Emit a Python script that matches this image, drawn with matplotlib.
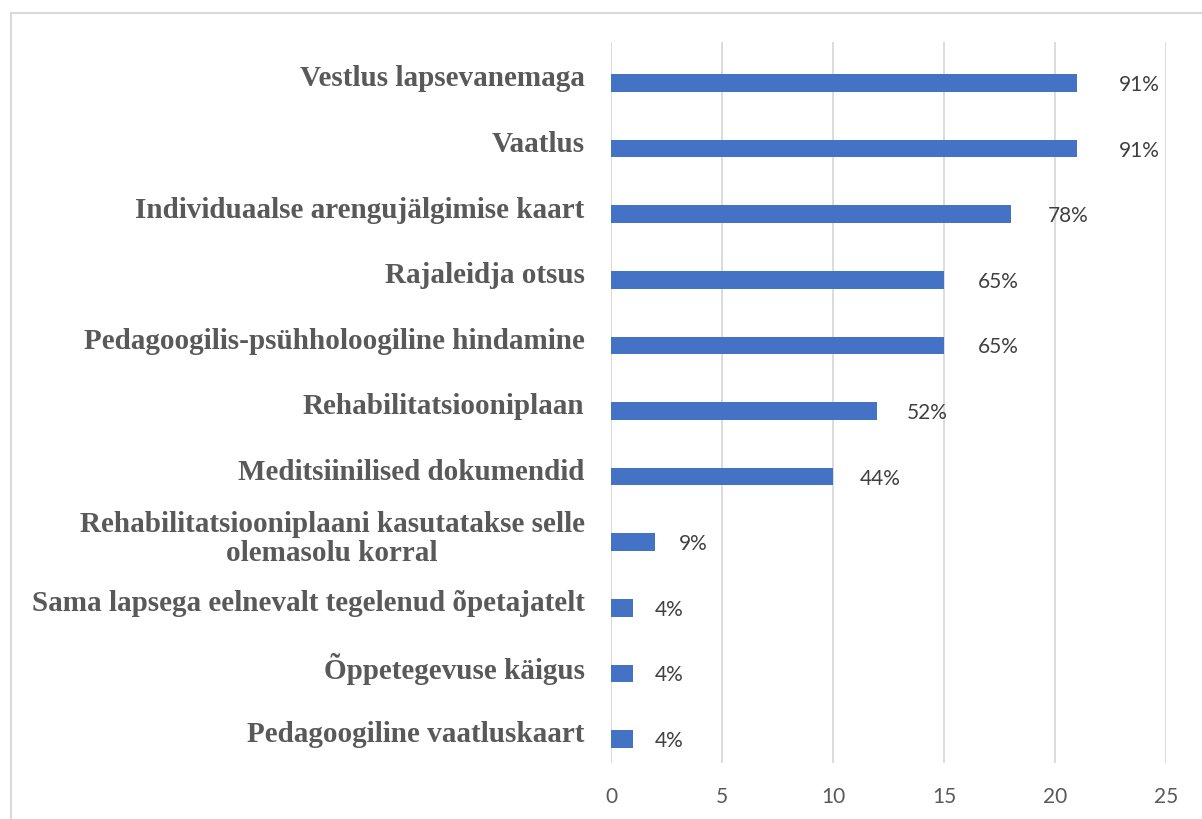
import matplotlib
matplotlib.use("Agg")
import matplotlib.pyplot as plt
from matplotlib.patches import Rectangle
from matplotlib.transforms import ScaledTranslation

# Data (top to bottom as shown)
categories = [
    "Vestlus lapsevanemaga",
    "Vaatlus",
    "Individuaalse arengujälgimise kaart",
    "Rajaleidja otsus",
    "Pedagoogilis-psühholoogiline hindamine",
    "Rehabilitatsiooniplaan",
    "Meditsiinilised dokumendid",
    "Rehabilitatsiooniplaani kasutatakse selle\nolemasolu korral",
    "Sama lapsega eelnevalt tegelenud õpetajatelt",
    "Õppetegevuse käigus",
    "Pedagoogiline vaatluskaart",
]
counts = [21, 21, 18, 15, 15, 12, 10, 2, 1, 1, 1]
percents = ["91%", "91%", "78%", "65%", "65%", "52%", "44%", "9%", "4%", "4%", "4%"]
xticks = [0, 5, 10, 15, 20, 25]

W, H = 1202, 819
fig = plt.figure(figsize=(W / 100, H / 100), dpi=100)
fig.patch.set_facecolor("white")

# outer chart frame (cut off at right and bottom in the reference)
fig.patches.append(Rectangle((11 / W, -0.05), 1.2, 1 - 13 / H + 0.05,
                             transform=fig.transFigure, fill=False,
                             edgecolor="#d9d9d9", linewidth=1.5))

ax = fig.add_axes([611 / W, 1 - 763 / H, (1166 - 611) / W, (763 - 42) / H])

ypos = list(range(len(categories)))
ax.barh(ypos, counts, height=0.27, color="#4472c4")
ax.set_ylim(len(categories) - 1 + 0.366, -0.625)
ax.set_xlim(0, 25)
ax.set_xticks(xticks)
ax.set_yticks(ypos)
ax.set_yticklabels(categories, fontfamily="Liberation Serif", fontweight="bold",
                   fontsize=21, color="#595959", multialignment="center",
                   linespacing=1.1)
ax.tick_params(axis="y", length=0, pad=19)
ax.tick_params(axis="x", length=0, pad=17, labelsize=15, labelcolor="#595959")
for lab in ax.get_xticklabels():
    lab.set_fontfamily("Lato")
# category labels sit a little above the bars in the reference
shift = ScaledTranslation(0, 7 / 100, fig.dpi_scale_trans)
for lab in ax.get_yticklabels():
    lab.set_transform(lab.get_transform() + shift)

ax.grid(axis="x", color="#d9d9d9", linewidth=1.3)
ax.set_axisbelow(True)
for s in ax.spines.values():
    s.set_visible(False)

for y, c, p in zip(ypos, counts, percents):
    off = (35 + 1.27 * c) * 0.72
    ax.annotate(p, (c, y), xytext=(off, -1.5), textcoords="offset points",
                ha="center", va="center", fontsize=15, color="#404040",
                fontfamily="Lato")

fig.savefig("out.png", dpi=100, facecolor="white")
